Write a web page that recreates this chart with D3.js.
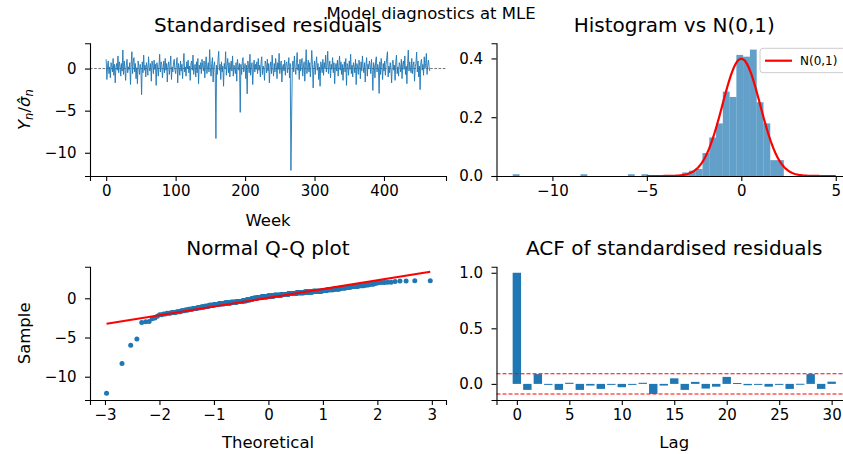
<!DOCTYPE html>
<html>
<head>
<meta charset="utf-8">
<script src="https://cdnjs.cloudflare.com/ajax/libs/d3/7.8.5/d3.min.js"></script>
<style>
  body { margin: 0; background: #fff; }
  svg { font-family: "DejaVu Sans", sans-serif; }
</style>
</head>
<body>
<svg id="chart" width="843" height="454"></svg>
<script>
//////////////////////// DATA ////////////////////////
// standardised residuals, one per week
var residuals = [
  1.1, -1.3, 0.4, 0.9, -0.6, 0.2, -1.1, 0.7, 0.3, -0.4, 1.2, -0.8, 0.5, -1.7, 0.1, 0.6, -0.2, 1.5, -0.5, 0.8,
  0.3, -0.9, 0.6, -0.3, 2.2, -0.7, 0.9, 0.0, -1.4, 0.4, 1.1, -0.5, 0.2, -0.1, 0.7, -1.9, 0.5, 2.0, -0.6, 0.8,
  1.3, -0.4, 0.6, -1.2, 0.1, -1.8, 0.9, 0.3, -0.7, 0.5, 0.0, -3.1, 0.8, -0.5, 1.6, -0.2, 0.4, -1.0, 0.7, 0.2,
  -0.8, 1.4, 0.1, -0.3, 0.6, -1.5, 0.9, 0.4, -0.6, 1.0, -0.1, 0.5, -2.0, 0.7, 0.2, -0.9, 0.3, 1.7, -0.4, 0.8,
  0.5, -1.1, 0.0, 0.9, -0.5, 1.2, -0.2, 0.6, -1.6, 0.3, 0.8, -0.7, 0.4, 1.5, -1.3, 0.2, -0.4, 0.7, 1.1, -0.1,
  -0.6, 0.4, 1.3, -1.7, 0.6, 0.1, -0.8, 0.9, -0.3, 0.5, -1.2, 0.7, 1.8, -0.4, 0.2, -0.9, 0.8, 0.0, 1.0, -0.5,
  0.3, -1.4, 0.6, 0.9, -0.2, 1.6, -0.7, 0.1, 0.5, -1.0, 0.8, -0.5, 1.2, -1.8, 0.4, 0.0, 0.7, -0.6, 1.1, 0.2,
  -0.3, 0.9, -1.1, 0.5, 1.4, -0.6, 0.2, 0.7, -0.4, 2.25, 0.1, -0.9, 0.6, 1.3, -1.6, 0.3, 0.8, -0.5, -8.3, 0.4,
  -0.7, 1.0, 2.05, -0.2, 0.5, -1.3, 0.8, -0.4, 0.3, -2.1, 0.6, 0.0, 2.0, -0.8, 0.4, 1.2, -0.5, 0.7, -1.0, 0.2,
  0.9, -0.3, 1.5, -0.9, 0.4, 0.1, -0.6, 0.7, -1.5, 1.1, 0.3, -0.2, 0.6, -5.2, 0.5, -0.7, 0.8, 1.3, -0.4, 0.0,
  0.6, -1.2, 0.4, -3.0, 0.9, 0.2, -0.5, 1.7, -0.8, 0.3, 0.7, -1.9, 0.1, 1.0, -0.4, 0.5, -0.1, 0.8, -0.6, 1.2,
  -0.2, 0.4, -1.0, 0.7, 1.4, -0.7, 0.3, 0.0, -1.4, 0.9, 0.5, -0.5, 1.1, -0.3, 0.6, -1.7, 0.2, 0.8, -0.6, 1.6,
  0.1, -0.9, 0.6, -0.4, 1.2, 0.3, -1.2, 0.7, -0.1, 1.8, -0.6, 0.4, 0.9, -1.6, 0.2, 0.5, -0.3, 1.0, -0.8, 0.6,
  0.8, -0.5, 0.3, 1.3, -1.1, 0.6, -12.1, -6.0, 0.4, 0.9, -0.4, 1.5, 0.1, -0.7, 0.7, 1.9, -0.2, 0.5, -1.3, 1.1,
  -0.3, 0.6, 1.2, -0.9, 0.2, 0.8, -1.5, 0.4, 2.25, -0.6, 0.1, 1.0, -0.4, 0.7, -1.0, 0.3, 2.15, 0.5, -2.3, 0.0,
  0.9, -0.7, 0.5, 1.4, -0.2, 0.6, -1.3, 0.2, -2.1, 0.8, 0.3, -0.5, 1.1, -0.8, 0.7, 0.0, 1.6, -0.4, 0.4, 2.05,
  -0.6, 0.3, 0.9, -1.1, 0.5, -0.1, 1.3, -0.5, 0.7, -1.8, 0.2, 0.6, -0.3, 1.0, -0.9, 0.4, 1.5, -0.2, 0.8, -0.7,
  0.5, -1.4, 0.1, 0.8, -0.4, 1.2, -2.0, 0.6, 0.3, -0.8, 0.9, -0.1, 1.7, -0.6, 0.4, -1.0, 0.7, 0.2, -0.5, 1.1,
  -1.9, 0.6, 0.2, -0.7, 1.0, 0.4, -1.2, 0.8, -0.3, 1.5, 0.1, -0.5, 0.7, -1.6, 0.3, 1.3, -0.9, 0.5, 0.0, 0.9,
  0.4, -0.6, 1.1, -0.2, -2.6, 0.7, 0.3, -1.1, 0.9, 1.4, -0.4, 0.5, 0.1, -2.95, 0.8, -0.7, 1.2, 0.2, -1.3, 0.6,
  -0.3, 0.9, -0.8, 0.5, 1.3, 2.0, -1.0, 0.3, -0.5, 0.7, 0.0, -1.7, 0.6, 1.0, -0.2, 0.4, -1.4, 0.8, 1.6, -0.6,
  0.2, -0.9, 0.7, 0.4, -0.4, 1.1, -1.2, 0.5, 0.9, -0.1, 1.5, -0.7, 0.3, -1.8, 0.6, 2.2, -0.3, 0.8, 0.1, -0.5,
  1.2, -0.6, 0.4, 0.8, -1.5, 0.2, 0.6, 1.95, -0.4, 0.9, -1.0, 0.3, -2.5, 0.7, 1.1, -0.2, 0.5, -0.8, 1.4, 0.0,
  0.6, 1.8, -0.7, 0.4, 1.0, 0.2, -0.3
]

// histogram densities, 40 equal bins from histMin to histMax
var histMin = -12.1
var histMax = 2.25
var histDensity = [
  0.006, 0, 0, 0, 0, 0, 0, 0, 0, 0,
  0.006, 0, 0, 0, 0, 0, 0, 0.006, 0, 0.006,
  0, 0, 0, 0, 0, 0.012, 0.018, 0.024, 0.078, 0.131,
  0.179, 0.287, 0.269, 0.412, 0.406, 0.430, 0.251, 0.179, 0.054, 0.054
]

// ACF of the residuals, lags 0..30
var acfValues = [
  1.0, -0.054, 0.088, -0.004, -0.054, 0.010, -0.054, -0.015, -0.045, -0.005, -0.030,
  -0.004, 0.010, -0.090, -0.015, 0.050, -0.054, 0.018, -0.042, -0.025, 0.063,
  0.008, -0.012, -0.006, -0.025, -0.002, -0.045, 0.001, 0.088, -0.045, 0.020
]
var acfBand = 0.0907

// fitted reference line of the Q-Q plot
var qqSlope = 1.115
var qqIntercept = 0.07

// tick labels
var weekTicks = [0, 100, 200, 300, 400]
var residTicks = [-10, -5, 0]
var histXTicks = [-10, -5, 0, 5]
var histYTicks = [0, 0.2, 0.4]
var qqXTicks = [-3, -2, -1, 0, 1, 2, 3]
var qqYTicks = [-10, -5, 0]
var lagTicks = [0, 5, 10, 15, 20, 25, 30]
var acfYTicks = [0, 0.5, 1.0]

var blue = '#1f77b4'

var svg = d3.select('#chart')

///////////////////// HELPERS /////////////////////
function styleAxis(g){
  g.selectAll('path.domain').attr('stroke', '#000').attr('stroke-width', 1.1)
  g.selectAll('.tick line').attr('stroke', '#000').attr('stroke-width', 1.1)
  g.selectAll('.tick text').attr('fill', '#000').style('font-size', '15px').style('font-family', '"DejaVu Sans", sans-serif')
}

function drawAxes(x, y, xt, yt, xfmt, yfmt){
  var ax = d3.axisBottom(x).tickValues(xt).tickSizeOuter(0).tickSize(5).tickPadding(4).tickFormat(xfmt)
  var gx = svg.append('g')
    .attr('transform', 'translate(0,' + y.range()[0] + ')')
    .call(ax)
  gx.call(styleAxis)
  var ay = d3.axisLeft(y).tickValues(yt).tickSizeOuter(0).tickSize(5).tickPadding(8.5).tickFormat(yfmt)
  var gy = svg.append('g')
    .attr('transform', 'translate(' + x.range()[0] + ',0)')
    .call(ay)
  gy.call(styleAxis)
}

function title(txt, x, y){
  svg.append('text').attr('x', x).attr('y', y)
    .attr('text-anchor', 'middle').style('font-size', '20px').text(txt)
}

function xlabel(txt, x, y){
  svg.append('text').attr('x', x).attr('y', y)
    .attr('text-anchor', 'middle').style('font-size', '16.5px').text(txt)
}

// inverse normal cdf (Acklam)
function normInv(p){
  var a = [-3.969683028665376e+01, 2.209460984245205e+02, -2.759285104469687e+02, 1.383577518672690e+02, -3.066479806614716e+01, 2.506628277459239e+00]
  var b = [-5.447609879822406e+01, 1.615858368580409e+02, -1.556989798598866e+02, 6.680131188771972e+01, -1.328068155288572e+01]
  var c = [-7.784894002430293e-03, -3.223964580411365e-01, -2.400758277161838e+00, -2.549671348283180e+00, 4.374664141464968e+00, 2.938163982698783e+00]
  var d = [7.784695709041462e-03, 3.224671290700398e-01, 2.445134137142996e+00, 3.754408661907416e+00]
  var q, r
  if (p < 0.02425){
    q = Math.sqrt(-2 * Math.log(p))
    return (((((c[0]*q+c[1])*q+c[2])*q+c[3])*q+c[4])*q+c[5]) / ((((d[0]*q+d[1])*q+d[2])*q+d[3])*q+1)
  }
  if (p > 1 - 0.02425){
    q = Math.sqrt(-2 * Math.log(1 - p))
    return -(((((c[0]*q+c[1])*q+c[2])*q+c[3])*q+c[4])*q+c[5]) / ((((d[0]*q+d[1])*q+d[2])*q+d[3])*q+1)
  }
  q = p - 0.5
  r = q * q
  return (((((a[0]*r+a[1])*r+a[2])*r+a[3])*r+a[4])*r+a[5])*q / (((((b[0]*r+b[1])*r+b[2])*r+b[3])*r+b[4])*r+1)
}

var intFmt = d3.format('d')
var oneDec = d3.format('.1f')

var L = [90, 446], R = [496.5, 852]
var TOP = [176, 43.3], BOT = [400, 266.7]

///////////////// STANDARDISED RESIDUALS /////////////////
var n = residuals.length
var tsX = d3.scaleLinear().domain([-23.3, 489.3]).range(L)
var tsY = d3.scaleLinear().domain([-12.76, 3.0]).range(TOP)

svg.append('line')
  .attr('x1', L[0]).attr('x2', L[1])
  .attr('y1', tsY(0)).attr('y2', tsY(0))
  .attr('stroke', '#333').attr('stroke-width', 0.7).attr('stroke-dasharray', '2.6,1.6')

svg.append('path')
  .datum(residuals)
  .attr('fill', 'none')
  .attr('stroke', blue)
  .attr('stroke-width', 0.9)
  .attr('d', d3.line().x(function(d, i){ return tsX(i) }).y(function(d){ return tsY(d) }))

drawAxes(tsX, tsY, weekTicks, residTicks, intFmt, intFmt)
title('Standardised residuals', (L[0] + L[1]) / 2, 32)
xlabel('Week', (L[0] + L[1]) / 2, 226)

var yl = svg.append('text')
  .attr('transform', 'translate(30,' + ((TOP[0] + TOP[1]) / 2) + ') rotate(-90)')
  .attr('text-anchor', 'middle')
  .style('font-size', '16.5px')
yl.append('tspan').style('font-style', 'italic').text('Y')
yl.append('tspan').style('font-style', 'italic').style('font-size', '11.5px').attr('dy', 3).text('n')
yl.append('tspan').attr('dy', -3).text('/')
yl.append('tspan').style('font-style', 'italic').text('\u03c3\u0302')
yl.append('tspan').style('font-style', 'italic').style('font-size', '11.5px').attr('dy', 3).text('n')

///////////////////// HISTOGRAM /////////////////////
var hX = d3.scaleLinear().domain([-12.96, 5.86]).range(R)
var hY = d3.scaleLinear().domain([0, 0.4515]).range(TOP)
var binW = (histMax - histMin) / histDensity.length

// one object per non-empty bin
var histBins = histDensity.map(function(d, i){
  return { x0: histMin + i * binW, x1: histMin + (i + 1) * binW, density: d }
}).filter(function(b){ return b.density > 0 })

svg.append('g').selectAll('rect')
  .data(histBins)
  .enter()
  .append('rect')
  .attr('x', function(b){ return hX(b.x0) })
  .attr('width', function(b){ return hX(b.x1) - hX(b.x0) })
  .attr('y', function(b){ return hY(b.density) })
  .attr('height', function(b){ return hY(0) - hY(b.density) })
  .attr('fill', blue)
  .attr('fill-opacity', 0.7)

var pdfX = d3.range(-5, 5.0001, 0.05)
svg.append('path')
  .datum(pdfX)
  .attr('fill', 'none')
  .attr('stroke', 'red')
  .attr('stroke-width', 2.2)
  .attr('d', d3.line().x(function(d){ return hX(d) }).y(function(d){ return hY(Math.exp(-d * d / 2) / Math.sqrt(2 * Math.PI)) }))

drawAxes(hX, hY, histXTicks, histYTicks, intFmt, oneDec)
title('Histogram vs N(0,1)', (R[0] + R[1]) / 2, 32)

// legend
var lg = svg.append('g')
lg.append('rect').attr('x', 760).attr('y', 48.3).attr('width', 100).attr('height', 24.4)
  .attr('rx', 3).attr('fill', '#fff').attr('fill-opacity', 0.8).attr('stroke', '#ccc')
lg.append('line').attr('x1', 765).attr('x2', 792).attr('y1', 60.7).attr('y2', 60.7)
  .attr('stroke', 'red').attr('stroke-width', 2.2)
lg.append('text').attr('x', 800).attr('y', 65).style('font-size', '12px').text('N(0,1)')

///////////////////// Q-Q PLOT /////////////////////
var sorted = residuals.slice().sort(d3.ascending)
var qq = sorted.map(function(v, i){
  var m
  if (i === 0) m = 1 - Math.pow(0.5, 1 / n)
  else if (i === n - 1) m = Math.pow(0.5, 1 / n)
  else m = (i + 1 - 0.3175) / (n + 0.365)
  return [normInv(m), v]
})

var qX = d3.scaleLinear().domain([-3.275, 3.26]).range(L)
var qY = d3.scaleLinear().domain([-12.97, 4.03]).range(BOT)

svg.append('g').selectAll('circle')
  .data(qq)
  .enter()
  .append('circle')
  .attr('cx', function(d){ return qX(d[0]) })
  .attr('cy', function(d){ return qY(d[1]) })
  .attr('r', 2.5)
  .attr('fill', blue)

var tMin = qq[0][0], tMax = qq[n - 1][0]
svg.append('line')
  .attr('x1', qX(tMin)).attr('y1', qY(qqIntercept + qqSlope * tMin))
  .attr('x2', qX(tMax)).attr('y2', qY(qqIntercept + qqSlope * tMax))
  .attr('stroke', 'red').attr('stroke-width', 2.2)

drawAxes(qX, qY, qqXTicks, qqYTicks, intFmt, intFmt)
title('Normal Q-Q plot', (L[0] + L[1]) / 2, 255)
xlabel('Theoretical', (L[0] + L[1]) / 2, 448)
svg.append('text')
  .attr('transform', 'translate(30,' + ((BOT[0] + BOT[1]) / 2) + ') rotate(-90)')
  .attr('text-anchor', 'middle').style('font-size', '16.5px').text('Sample')

///////////////////// ACF /////////////////////
var aX = d3.scaleLinear().domain([-1.94, 31.94]).range(R)
var aY = d3.scaleLinear().domain([-0.145, 1.0545]).range(BOT)

svg.append('g').selectAll('rect')
  .data(acfValues)
  .enter()
  .append('rect')
  .attr('x', function(d, i){ return aX(i - 0.4) })
  .attr('width', aX(0.4) - aX(-0.4))
  .attr('y', function(d){ return aY(Math.max(0, d)) })
  .attr('height', function(d){ return Math.max(1, Math.abs(aY(d) - aY(0))) })
  .attr('fill', blue)

;[acfBand, -acfBand].forEach(function(b){
  svg.append('line')
    .attr('x1', R[0]).attr('x2', R[1])
    .attr('y1', aY(b)).attr('y2', aY(b))
    .attr('stroke', 'red').attr('stroke-width', 1.1).attr('stroke-dasharray', '4,2')
})

drawAxes(aX, aY, lagTicks, acfYTicks, intFmt, oneDec)
title('ACF of standardised residuals', (R[0] + R[1]) / 2, 255)
xlabel('Lag', aX(15), 448)

// figure title
svg.append('text').attr('x', 431).attr('y', 19)
  .attr('text-anchor', 'middle').style('font-size', '16.5px').text('Model diagnostics at MLE')
</script>
</body>
</html>
